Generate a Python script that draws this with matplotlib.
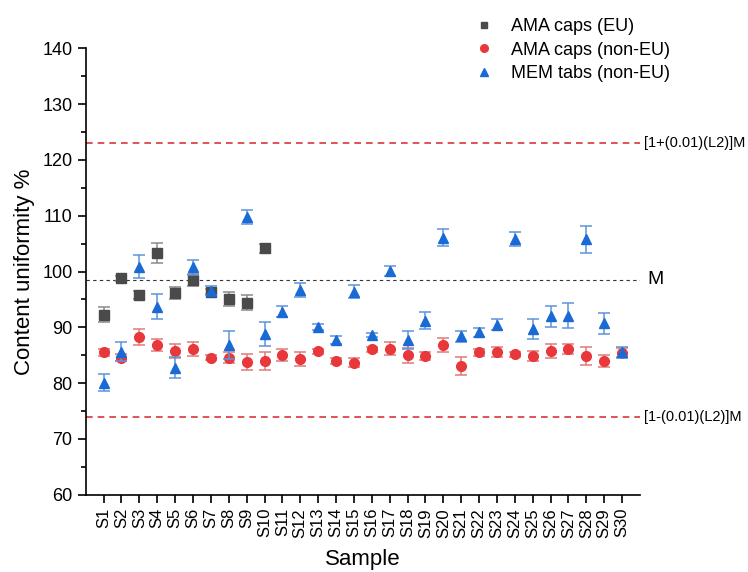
import matplotlib
matplotlib.use('Agg')
import matplotlib.pyplot as plt
from matplotlib.lines import Line2D
from matplotlib.ticker import MultipleLocator

plt.rcParams['font.family'] = ['Liberation Sans', 'DejaVu Sans']

samples = ['S%d' % i for i in range(1, 31)]

# AMA caps (EU), only S1-S10
eu_mean = [92.3, 98.8, 95.8, 103.3, 96.2, 98.5, 96.4, 95.1, 94.4, 104.2]
eu_err = [1.3, 0.4, 0.75, 1.8, 1.05, 1.1, 0.5, 1.3, 1.35, 0.8]

# AMA caps (non-EU)
ama_mean = [85.5, 84.6, 88.3, 86.8, 85.8, 86.1, 84.6, 84.6, 83.8, 84.0,
            85.0, 84.3, 85.75, 84.0, 83.7, 86.05, 86.2, 85.0, 84.9, 86.8,
            83.1, 85.5, 85.6, 85.2, 84.9, 85.75, 86.1, 84.9, 84.0, 85.45]
ama_err = [0.6, 0.7, 1.5, 1.05, 1.2, 1.2, 0.5, 0.9, 1.5, 1.6,
           1.1, 1.2, 0.45, 0.5, 0.75, 0.45, 1.2, 1.3, 0.75, 1.3,
           1.6, 0.6, 0.9, 0.45, 0.9, 1.3, 0.9, 1.65, 1.05, 0.8]

# MEM tabs (non-EU)
mem_mean = [80.1, 85.6, 100.9, 93.7, 82.8, 100.8, 96.6, 86.8, 109.8, 88.8,
            92.8, 96.7, 90.1, 87.7, 96.4, 88.6, 100.1, 87.7, 91.2, 106.1,
            88.4, 89.1, 90.5, 105.8, 89.7, 92.0, 92.1, 105.8, 90.7, 85.5]
mem_err = [1.5, 1.7, 2.1, 2.2, 1.85, 1.35, 0.85, 2.5, 1.3, 2.15,
           0.95, 1.2, 0.5, 0.7, 1.2, 0.4, 0.9, 1.6, 1.5, 1.6,
           0.95, 0.8, 0.95, 1.25, 1.85, 1.85, 2.2, 2.4, 1.9, 0.9]

M = 98.5
L2 = 25
upper = (1 + 0.01 * L2) * M
lower = (1 - 0.01 * L2) * M

x_all = list(range(1, 31))
x_eu = x_all[:10]

grey, red, blue = '#4a4a4a', '#e8383b', '#1a6ad6'

fig = plt.figure(figsize=(7.48, 5.72), dpi=100)
ax = fig.add_axes([0.1146, 0.135, 0.741, 0.7804])

ax.errorbar(x_eu, eu_mean, yerr=eu_err, fmt='s', color=grey, ms=6.5,
            ecolor='#8a8a8a', elinewidth=1.1, capsize=4, capthick=1.1, zorder=3)
ax.errorbar(x_all, ama_mean, yerr=ama_err, fmt='o', color=red, ms=7,
            ecolor='#e07a7b', elinewidth=1.1, capsize=4, capthick=1.1, zorder=4)
ax.errorbar(x_all, mem_mean, yerr=mem_err, fmt='^', color=blue, ms=7.5,
            ecolor='#5c95dc', elinewidth=1.1, capsize=4, capthick=1.1, zorder=5)

ax.axhline(upper, color='#d9363a', ls=(0, (4, 3)), lw=1.2, zorder=1)
ax.axhline(lower, color='#d9363a', ls=(0, (4, 3)), lw=1.2, zorder=1)
ax.axhline(M, color='#333333', ls=(0, (3, 3)), lw=0.8, zorder=1)

ax.text(31.2, upper, '[1+(0.01)(L2)]M', va='center', ha='left', fontsize=10.5, clip_on=False)
ax.text(31.2, lower, '[1-(0.01)(L2)]M', va='center', ha='left', fontsize=10.5, clip_on=False)
ax.text(31.4, M, 'M', va='center', ha='left', fontsize=14, clip_on=False)

ax.set_xlim(0, 31)
ax.set_ylim(60, 140)
ax.set_xticks(x_all)
ax.set_xticklabels(samples, rotation=90, fontsize=12)
ax.yaxis.set_major_locator(MultipleLocator(10))
ax.yaxis.set_minor_locator(MultipleLocator(5))
ax.tick_params(axis='y', labelsize=13, direction='out', length=6, width=1.2)
ax.tick_params(axis='y', which='minor', length=3.5, width=1.2)
ax.tick_params(axis='x', direction='out', length=6, width=1.2)

for side in ['top', 'right']:
    ax.spines[side].set_visible(False)
for side in ['left', 'bottom']:
    ax.spines[side].set_linewidth(1.2)

ax.set_xlabel('Sample', fontsize=16, labelpad=8)
ax.set_ylabel('Content uniformity %', fontsize=16, labelpad=5)

handles = [
    Line2D([], [], ls='none', marker='s', color=grey, ms=5),
    Line2D([], [], ls='none', marker='o', color=red, ms=5.5),
    Line2D([], [], ls='none', marker='^', color=blue, ms=6),
]
labels = ['AMA caps (EU)', 'AMA caps (non-EU)', 'MEM tabs (non-EU)']
fig.legend(handles, labels, loc='upper left', bbox_to_anchor=(0.618, 0.99),
           frameon=False, fontsize=13, handlelength=1.0, handletextpad=1.0,
           labelspacing=0.35, borderaxespad=0.3)

fig.savefig('out.png', dpi=100)
